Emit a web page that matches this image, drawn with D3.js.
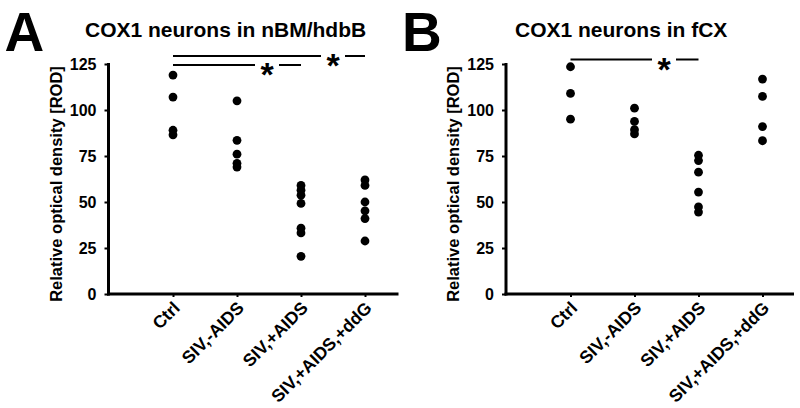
<!DOCTYPE html>
<html>
<head>
<meta charset="utf-8">
<script src="https://cdn.jsdelivr.net/npm/d3@7"></script>
<style>
  body { margin: 0; background: #fff; }
  svg { display: block; font-family: "Liberation Sans", Arial, sans-serif; font-weight: bold; }
</style>
</head>
<body>
<div id="chart"></div>
<script>
// Kategorien und Achse
const categories = ["Ctrl", "SIV,-AIDS", "SIV,+AIDS", "SIV,+AIDS,+ddG"];
const yTicks = [0, 25, 50, 75, 100, 125];

// Panel A: nBM/hdbB
const nbmCtrl = [119, 107, 89, 86.5];
const nbmNoAids = [105, 83.5, 76, 71, 69];
const nbmAids = [59, 56.4, 53.7, 49.2, 35.8, 33.2, 20.5];
const nbmDdg = [62, 59, 50, 45.2, 41, 28.8];

// Panel B: fCX
const fcxCtrl = [123.5, 109, 95];
const fcxNoAids = [101, 93.8, 89.3, 87];
const fcxAids = [75.4, 72.5, 66.2, 55.4, 47.3, 44.5];
const fcxDdg = [116.8, 107.4, 91, 83.3];

// Signifikanz-Balken: [von, bis]
const nbmSig = [["Ctrl", "SIV,+AIDS,+ddG"], ["Ctrl", "SIV,+AIDS"]];
const fcxSig = [["Ctrl", "SIV,+AIDS"]];

const W = 800, H = 408;
const svg = d3.select("#chart").append("svg")
    .attr("width", W)
    .attr("height", H);

const y = d3.scaleLinear().domain([0, 125]).range([294, 64]);

function drawPanel(opts) {
    const g = svg.append("g").attr("transform", `translate(${opts.left},0)`);
    const x = d3.scalePoint().domain(categories).range([64.5, 256.5]);

    // Buchstabe und Titel
    svg.append("text")
        .attr("x", opts.left - 104)
        .attr("y", 51)
        .style("font-size", "55px")
        .text(opts.letter);
    svg.append("text")
        .attr("x", opts.titleX)
        .attr("y", 37)
        .style("font-size", "21px")
        .text(opts.title);

    // Y-Achse
    const yAxis = g.append("g")
        .call(d3.axisLeft(y).tickValues(yTicks).tickSize(4).tickPadding(8));
    yAxis.select(".domain").remove();
    yAxis.selectAll("line").attr("stroke", "#000").attr("stroke-width", 2);
    yAxis.selectAll("text").style("font-size", "16px").attr("fill", "#000")
        .style("font-family", "Liberation Sans, Arial, sans-serif").style("font-weight", "bold");
    g.append("line")
        .attr("x1", 0).attr("x2", 0)
        .attr("y1", y(125) - 1).attr("y2", y(0) + 1.5)
        .attr("stroke", "#000").attr("stroke-width", 3);

    // X-Achse
    const xAxis = g.append("g")
        .attr("transform", `translate(0,${y(0)})`)
        .call(d3.axisBottom(x).tickSize(3).tickFormat(""));
    xAxis.select(".domain").remove();
    xAxis.selectAll("line").attr("stroke", "#000").attr("stroke-width", 2);
    g.append("line")
        .attr("x1", -1.5).attr("x2", opts.axisLen)
        .attr("y1", y(0)).attr("y2", y(0))
        .attr("stroke", "#000").attr("stroke-width", 3);

    g.selectAll(".xlab")
        .data(categories)
        .join("text")
        .attr("class", "xlab")
        .attr("text-anchor", "end")
        .attr("transform", d => `translate(${x(d) + 8},${y(0) + 15}) rotate(-45)`)
        .style("font-size", "17.5px")
        .text(d => d);

    // Y-Achsentitel
    g.append("text")
        .attr("transform", `translate(-47,${(y(0) + y(125)) / 2 + 5}) rotate(-90)`)
        .attr("text-anchor", "middle")
        .style("font-size", "16.5px")
        .text("Relative optical density [ROD]");

    // Punkte
    const pts = [];
    opts.groups.forEach((vals, i) => vals.forEach(v => pts.push({ cat: categories[i], v })));
    g.selectAll(".dot")
        .data(pts)
        .join("circle")
        .attr("class", "dot")
        .attr("cx", d => x(d.cat))
        .attr("cy", d => y(d.v))
        .attr("r", 4.4)
        .attr("fill", "#000");

    // Signifikanz
    opts.sig.forEach((s, i) => {
        const ly = opts.sigY[i];
        const x1 = x(s[0]), x2 = x(s[1]);
        const sx = opts.starX[i];
        g.append("line").attr("x1", x1).attr("x2", sx - 12)
            .attr("y1", ly).attr("y2", ly)
            .attr("stroke", "#000").attr("stroke-width", 2);
        g.append("line").attr("x1", sx + 12).attr("x2", x2)
            .attr("y1", ly).attr("y2", ly)
            .attr("stroke", "#000").attr("stroke-width", 2);
        g.append("text")
            .attr("x", sx)
            .attr("y", ly + 21)
            .attr("text-anchor", "middle")
            .style("font-size", "34px")
            .text("*");
    });
}

drawPanel({
    left: 108.5, letter: "A", title: "COX1 neurons in nBM/hdbB", titleX: 85,
    axisLen: 290, groups: [nbmCtrl, nbmNoAids, nbmAids, nbmDdg],
    sig: nbmSig, sigY: [56, 65], starX: [224.5, 158.5]
});
drawPanel({
    left: 506, letter: "B", title: "COX1 neurons in fCX", titleX: 515,
    axisLen: 288, groups: [fcxCtrl, fcxNoAids, fcxAids, fcxDdg],
    sig: fcxSig, sigY: [59.5], starX: [158]
});
</script>
</body>
</html>
